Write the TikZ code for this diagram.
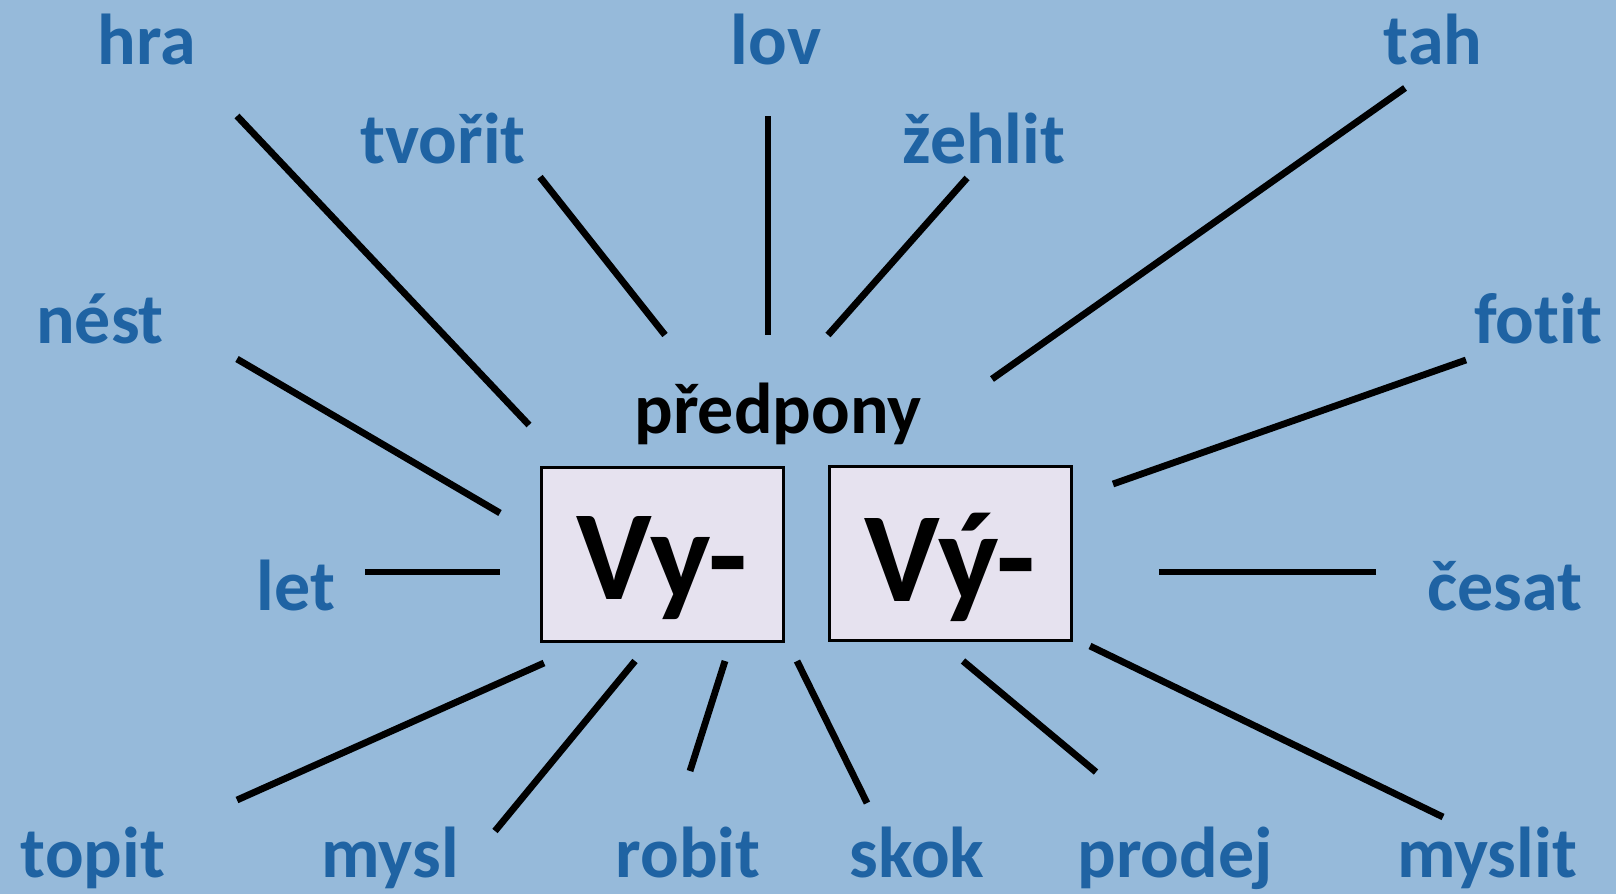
\documentclass[tikz,border=0pt]{standalone}
\usepackage{fontspec}
\setmainfont[Ligatures=NoCommon]{Carlito}
\definecolor{bgblue}{HTML}{96BADA}
\definecolor{wordblue}{HTML}{1F63A3}
\definecolor{boxfill}{HTML}{E6E2EF}
\begin{document}
\begin{tikzpicture}[x=0.5pt,y=-0.5pt,
  word/.style={text=wordblue,font=\fontsize{36}{40}\selectfont\bfseries,anchor=base,inner sep=0pt},
  title/.style={text=black,font=\fontsize{36}{40}\selectfont\bfseries,anchor=base,inner sep=0pt},
  prefbox/.style={draw=black,line width=1.5pt,fill=boxfill,minimum width=121pt,minimum height=87pt,inner sep=0pt},
  preftext/.style={text=black,font=\fontsize{64}{70}\selectfont\bfseries,inner sep=0pt,yshift=-7pt},
  ray/.style={line width=3.4pt,black}]
\fill[bgblue] (0,0) rectangle (1616,894);
\useasboundingbox (0,0) rectangle (1616,894);
% words
\node[word] (hra) at (147,64) {hra};
\node[word] (lov) at (776,64) {lov};
\node[word] (tah) at (1433,64) {tah};
\node[word] (tvorit) at (443,163) {tvořit};
\node[word] (zehlit) at (984,163) {žehlit};
\node[word] (nest) at (100,343) {nést};
\node[word] (fotit) at (1538,343) {fotit};
\node[title] (predpony) at (778,433) {předpony};
\node[word] (let) at (296,610) {let};
\node[word] (cesat) at (1505,610) {česat};
\node[word] (topit) at (93,877) {topit};
\node[word] (mysl) at (390,877) {mysl};
\node[word] (robit) at (688,877) {robit};
\node[word] (skok) at (917,877) {skok};
\node[word] (prodej) at (1175,877) {prodej};
\node[word] (myslit) at (1487,877) {myslit};
% boxes
\node[prefbox] (vy) at (662,554) {};
\node[prefbox] (vyy) at (950,553) {};
\node[preftext] (vytext) at (vy.center) {Vy-};
\node[preftext] (vyytext) at (vyy.center) {Vý-};
% ray end points
\coordinate (a1) at (237,116); \coordinate (b1) at (529,425);
\coordinate (a2) at (540,177); \coordinate (b2) at (665,335);
\coordinate (a3) at (768,116); \coordinate (b3) at (768,335);
\coordinate (a4) at (967,178); \coordinate (b4) at (828,335);
\coordinate (a5) at (1405,88); \coordinate (b5) at (992,379);
\coordinate (a6) at (237,359); \coordinate (b6) at (500,513);
\coordinate (a7) at (1466,360); \coordinate (b7) at (1113,484);
\coordinate (a8) at (365,572); \coordinate (b8) at (500,572);
\coordinate (a9) at (1376,572); \coordinate (b9) at (1159,572);
\coordinate (a10) at (237,800); \coordinate (b10) at (544,663);
\coordinate (a11) at (495,831); \coordinate (b11) at (635,661);
\coordinate (a12) at (690,771); \coordinate (b12) at (725,661);
\coordinate (a13) at (867,803); \coordinate (b13) at (797,661);
\coordinate (a14) at (1096,772); \coordinate (b14) at (963,661);
\coordinate (a15) at (1443,817); \coordinate (b15) at (1090,646);
\foreach \i in {1,...,15} { \draw[ray] (a\i) -- (b\i); }
\end{tikzpicture}
\end{document}
